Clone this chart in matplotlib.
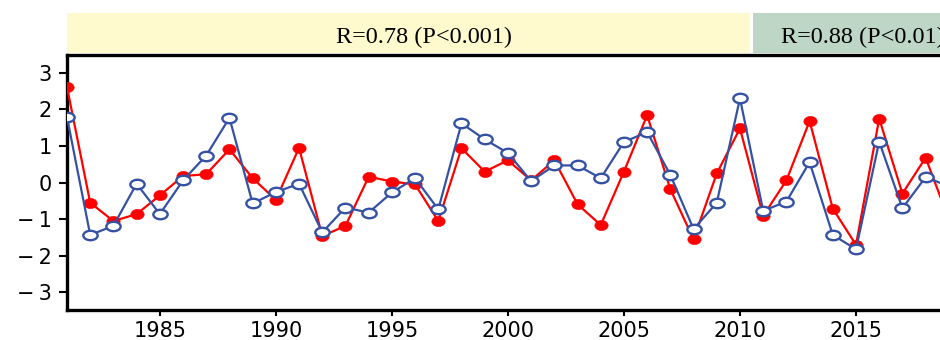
import numpy as np
import matplotlib
matplotlib.use("Agg")
import matplotlib.pyplot as plt
from matplotlib.path import Path
from matplotlib.markers import MarkerStyle
import matplotlib.transforms as mtransforms

# data
years = list(range(1981, 2020))
red_vals = [2.61, -0.55, -1.05, -0.86, -0.35, 0.18, 0.23, 0.91, 0.12, -0.47,
            0.95, -1.46, -1.18, 0.16, 0.03, -0.05, -1.05, 0.94, 0.30, 0.61,
            0.06, 0.61, -0.59, -1.16, 0.30, 1.84, -0.18, -1.55, 0.25, 1.48,
            -0.91, 0.06, 1.68, -0.71, -1.70, 1.75, -0.30, 0.68, -1.00]
blue_vals = [1.79, -1.43, -1.18, -0.03, -0.86, 0.06, 0.74, 1.77, -0.57, -0.26,
             -0.03, -1.36, -0.68, -0.82, -0.27, 0.12, -0.73, 1.62, 1.18, 0.81,
             0.04, 0.47, 0.47, 0.12, 1.11, 1.38, 0.21, -1.27, -0.55, 2.30,
             -0.77, -0.52, 0.56, -1.43, -1.82, 1.12, -0.70, 0.15, -0.10]
band_labels = ["R=0.78 (P<0.001)", "R=0.88 (P<0.01)"]
band_spans = [(1981.0, 2010.45), (2010.55, 2021.0)]
band_text_x = [1996.4, 2015.3]
band_colors = ["#fffacd", "#bdd6c5"]
yticks = [-3, -2, -1, 0, 1, 2, 3]
xticks = [1985, 1990, 1995, 2000, 2005, 2010, 2015]

XMIN, XMAX = 1981.0, 2018.62

fig = plt.figure(figsize=(9.4, 3.4), dpi=100)
left = 67 / 940
ax = fig.add_axes([left, 1 - 310 / 340, 1 - left, (310 - 54.5) / 340])
band = fig.add_axes([left, 1 - 52.5 / 340, 1 - left, 40 / 340])

# ellipse markers (the original circles look stretched sideways)
def ellipse(ratio):
    p = Path.unit_circle().transformed(mtransforms.Affine2D().scale(1.0, ratio))
    return MarkerStyle(p)

ax.plot(years, red_vals, color="#ff0000", lw=1.6, marker=ellipse(0.77), ms=9.6,
        mfc="#ff0000", mec="#ff0000", mew=0.4, zorder=3)
ax.plot(years, blue_vals, color="#3451a3", lw=1.6, marker=ellipse(0.66), ms=10.3,
        mfc="white", mec="#3451a3", mew=1.7, zorder=4)

ax.set_xlim(XMIN, XMAX)
ax.set_ylim(-3.48, 3.5)
ax.set_xticks(xticks)
ax.set_xticklabels([str(x) for x in xticks])
ax.set_yticks(yticks)
ax.set_yticklabels([("\u2212\u2009" + str(-v)) if v < 0 else str(v) for v in yticks])
ax.tick_params(axis="both", direction="out", width=1.5, labelsize=15,
               colors="black")
ax.tick_params(axis="y", length=6, pad=5)
ax.tick_params(axis="x", length=4, pad=4)
for s in ["left", "top", "bottom"]:
    ax.spines[s].set_linewidth(2.4)
ax.spines["right"].set_visible(False)

band.set_xlim(XMIN, XMAX)
band.set_ylim(0, 1)
band.axis("off")
for (x0, x1), c in zip(band_spans, band_colors):
    band.axvspan(x0, x1, color=c, lw=0)
for tx, lab in zip(band_text_x, band_labels):
    band.text(tx, 0.23, lab, ha="center", va="baseline",
              fontsize=17.5, family="Liberation Serif", clip_on=True)

fig.savefig("out.png", dpi=100)
